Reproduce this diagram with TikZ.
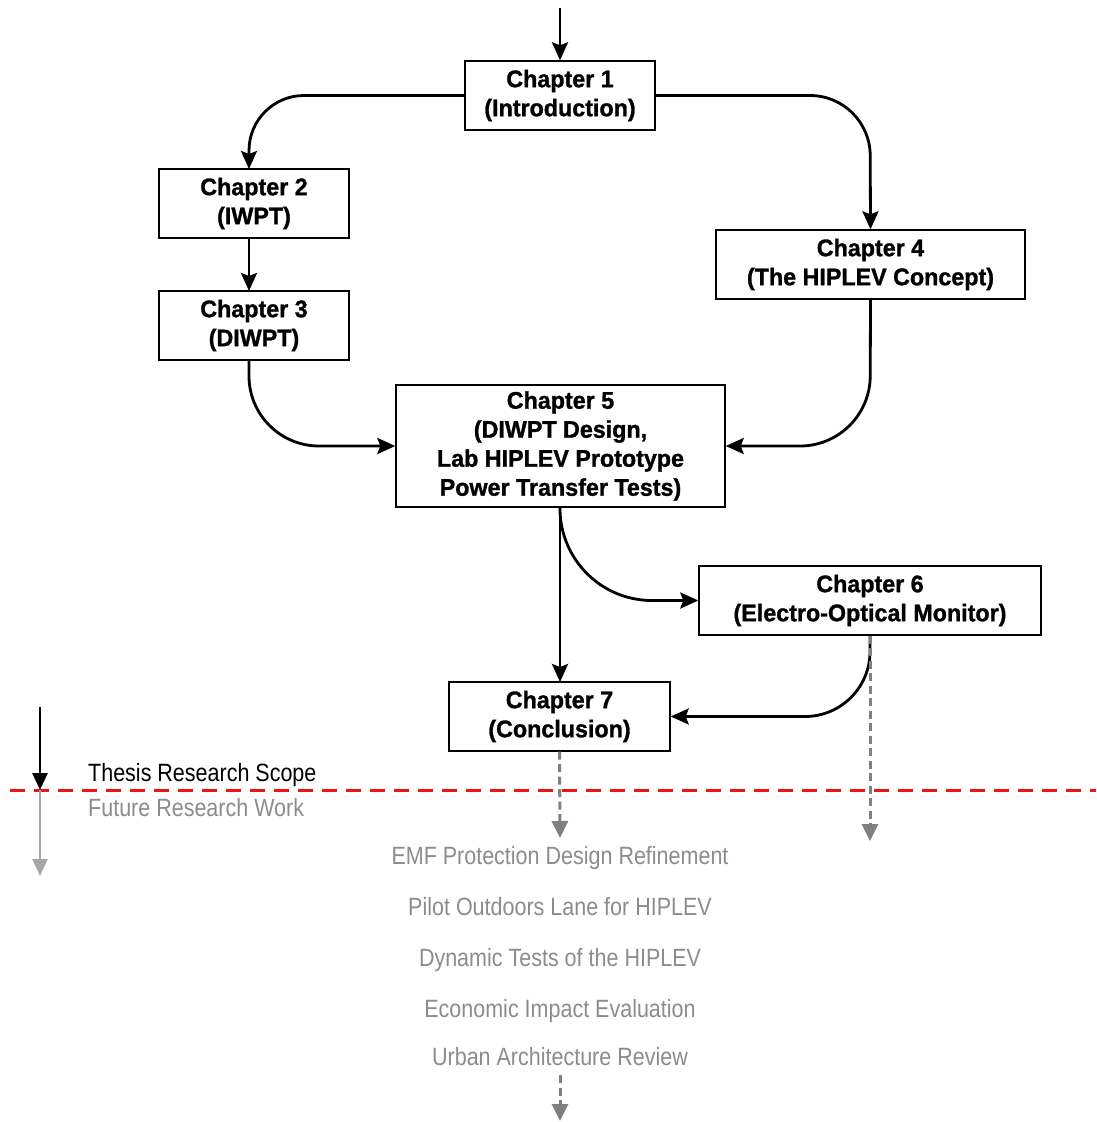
\documentclass[tikz,border=0pt]{standalone}
\usepackage{fontspec}
\setmainfont{Liberation Sans}[FakeStretch=0.86, BoldFeatures={FakeStretch=0.97,FakeBold=1.2}]
\usetikzlibrary{arrows.meta}
\definecolor{futgray}{RGB}{128,128,128}
\definecolor{txtgray}{RGB}{140,140,140}
\definecolor{legred}{RGB}{235,20,20}
\begin{document}
\begin{tikzpicture}[x=1pt,y=-1pt,
  chap/.style={draw=black,line width=1.4pt,fill=white,align=center,font=\fontsize{24}{29}\selectfont\bfseries,inner sep=0pt},
  flow/.style={line width=2.8pt,-{Stealth[length=18pt,width=16pt,inset=3pt]}},
  future/.style={futgray,line width=3pt,dash pattern=on 8pt off 4.5pt,-{Triangle[length=17pt,width=16pt]}},
  futtext/.style={text=txtgray,font=\fontsize{25}{30}\selectfont,inner sep=0pt},
]
\useasboundingbox (0,0) rectangle (1096,1122);
\node[chap,minimum width=190pt,minimum height=69pt] (c1) at (560,95.5) {Chapter 1\\(Introduction)};
\node[chap,minimum width=190pt,minimum height=69pt] (c2) at (254,203.5) {Chapter 2\\(IWPT)};
\node[chap,minimum width=190pt,minimum height=69pt] (c3) at (254,325.5) {Chapter 3\\(DIWPT)};
\node[chap,minimum width=309pt,minimum height=69pt] (c4) at (870.5,264.5) {Chapter 4\\(The HIPLEV Concept)};
\node[chap,minimum width=329pt,minimum height=122pt] (c5) at (560.5,446) {Chapter 5\\(DIWPT Design,\\Lab HIPLEV Prototype\\Power Transfer Tests)};
\node[chap,minimum width=342pt,minimum height=69pt] (c6) at (870,600.5) {Chapter 6\\(Electro-Optical Monitor)};
\node[chap,minimum width=221pt,minimum height=69pt] (c7) at (559.5,716.5) {Chapter 7\\(Conclusion)};

\coordinate (top) at (560,8);
\draw[flow] (top) -- (c1.north);
\draw[flow,rounded corners=55pt] (c1.west) -- (249,95.5) -- (249,169);
\draw[flow,rounded corners=60pt] (c1.east) -- (870,95.5) -- (c4.north);
\draw[flow] (249,238) -- (249,291);
\draw[flow,rounded corners=70pt] (249,360) -- (249,446) -- (c5.west);
\draw[flow,rounded corners=70pt] (c4.south) -- (870,446) -- (c5.east);
\draw[flow] (560,507) -- (560,682);
\draw[flow,rounded corners=92pt] (560,507) -- (560,600.5) -- (c6.west);
\draw[flow,rounded corners=65pt] (c6.south) -- (870,716.5) -- (c7.east);

% scope line
\draw[legred,line width=3pt,dash pattern=on 15pt off 9pt] (10,790) -- (1096,790);

% legend
\coordinate (la) at (40,707);
\coordinate (lb) at (40,790);
\coordinate (lc) at (40,876);
\draw[line width=2.8pt,-{Triangle[length=17pt,width=15pt]}] (la) -- (lb);
\draw[black!35,line width=2.8pt,-{Triangle[length=17pt,width=15pt]}] (lb) -- (lc);
\node[anchor=base west,font=\fontsize{25}{30}\selectfont,inner sep=0pt] (ts) at (88,781) {Thesis Research Scope};
\node[anchor=base west,futtext] (fr) at (88,816) {Future Research Work};

% future items
\node[futtext,anchor=base] (f1) at (560,864) {EMF Protection Design Refinement};
\node[futtext,anchor=base] (f2) at (560,915) {Pilot Outdoors Lane for HIPLEV};
\node[futtext,anchor=base] (f3) at (560,966) {Dynamic Tests of the HIPLEV};
\node[futtext,anchor=base] (f4) at (560,1017) {Economic Impact Evaluation};
\node[futtext,anchor=base] (f5) at (560,1065) {Urban Architecture Review};

\coordinate (e7) at (560,838);
\coordinate (e6) at (870,841);
\coordinate (e5) at (560,1121);
\draw[future] (c7.south) -- (e7);
\draw[future] (c6.south) -- (e6);
\draw[future] (560,1075) -- (e5);
\end{tikzpicture}
\end{document}
